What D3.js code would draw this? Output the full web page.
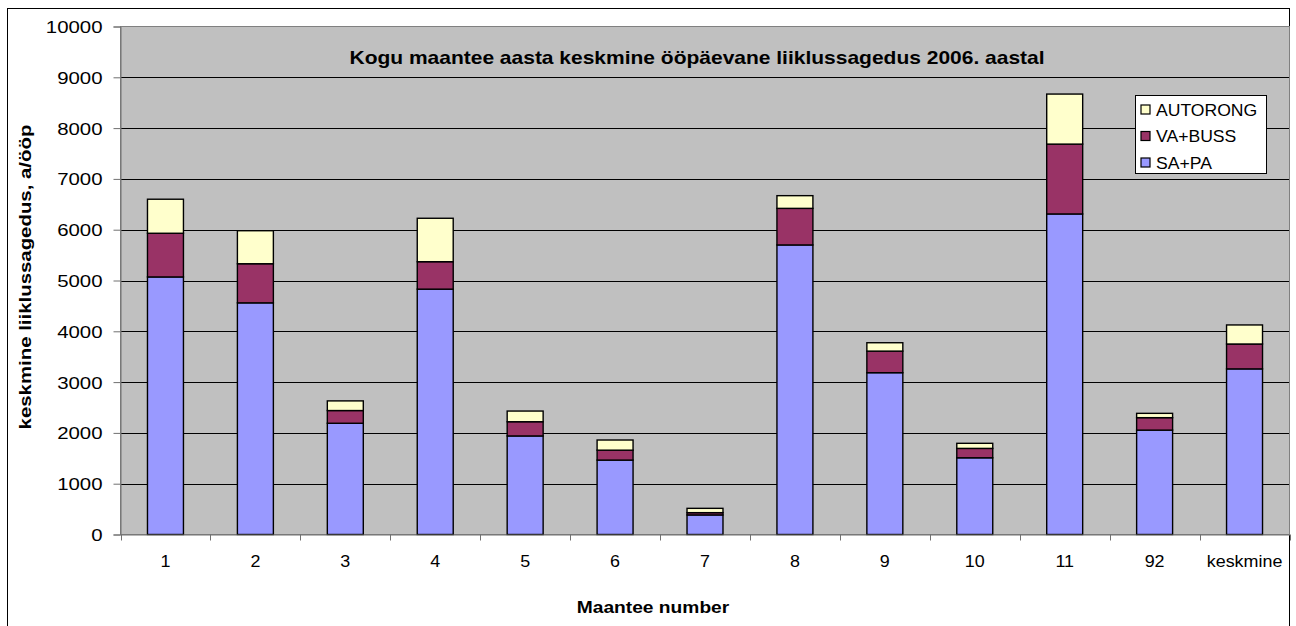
<!DOCTYPE html>
<html>
<head>
<meta charset="utf-8">
<script src="https://cdn.jsdelivr.net/npm/d3@7"></script>
<style>
  html, body { margin: 0; padding: 0; background: #fff; }
  svg { display: block; font-family: "Liberation Sans", Arial, sans-serif; }
</style>
</head>
<body>
<svg id="chart" width="1296" height="626"></svg>
<script>
// ---- data ----
const categories = ["1", "2", "3", "4", "5", "6", "7", "8", "9", "10", "11", "92", "keskmine"];
const saPa     = [5070, 4560, 2190, 4830, 1940, 1465, 385, 5700, 3185, 1510, 6310, 2055, 3260];
const vaBuss   = [ 860,  770,  250,  540,  280,  195,  45,  720,  425,  185, 1375,  245,  490];
const autorong = [ 670,  650,  190,  855,  210,  200,  85,  250,  165,  100,  985,   85,  375];
const seriesNames = ["SA+PA", "VA+BUSS", "AUTORONG"];
const seriesColors = ["#9999FF", "#993366", "#FFFFCC"];
const yTicks = [0, 1000, 2000, 3000, 4000, 5000, 6000, 7000, 8000, 9000, 10000];
const title = "Kogu maantee aasta keskmine ööpäevane liiklussagedus 2006. aastal";
const xTitle = "Maantee number";
const yTitle = "keskmine liiklussagedus, a/ööp";

// ---- layout ----
const svg = d3.select("#chart");
const plot = { left: 120.5, right: 1289.5, top: 26.5, bottom: 534.5 };

const x = d3.scaleBand().domain(categories).range([plot.left, plot.right])
  .paddingInner(0.6).paddingOuter(0.3);
const xStep = d3.scaleBand().domain(categories).range([plot.left, plot.right]);
const y = d3.scaleLinear().domain([0, 10000]).range([plot.bottom, plot.top]);

// outer chart border
svg.append("rect").attr("x", 7.5).attr("y", 8.5).attr("width", 1282).attr("height", 640)
  .attr("fill", "#fff").attr("stroke", "#000").attr("stroke-width", 1);

// plot background
svg.append("rect").attr("x", plot.left).attr("y", plot.top)
  .attr("width", plot.right - plot.left).attr("height", plot.bottom - plot.top)
  .attr("fill", "#C0C0C0");

// gridlines
svg.append("g").selectAll("line").data(yTicks.filter(v => v > 0 && v < 10000)).join("line")
  .attr("x1", plot.left).attr("x2", plot.right)
  .attr("y1", d => Math.round(y(d)) + 0.5).attr("y2", d => Math.round(y(d)) + 0.5)
  .attr("stroke", "#000").attr("stroke-width", 1);

// plot border
svg.append("rect").attr("x", plot.left).attr("y", plot.top)
  .attr("width", plot.right - plot.left).attr("height", plot.bottom - plot.top)
  .attr("fill", "none").attr("stroke", "#808080").attr("stroke-width", 1);

// title (inside plot)
function scaledText(g, txt, tx, ty, sx, opts) {
  const t = g.append("text")
    .attr("transform", `translate(${tx},${ty}) scale(${sx},1)`)
    .attr("font-size", opts.size).attr("font-weight", opts.weight || "normal")
    .attr("text-anchor", opts.anchor || "middle").attr("fill", "#000")
    .text(txt);
  return t;
}
scaledText(svg, title, 697, 64, 1.2, { size: 17.5, weight: "bold" });

// stacked bars
const stackData = categories.map((c, i) => ({ cat: c, "SA+PA": saPa[i], "VA+BUSS": vaBuss[i], "AUTORONG": autorong[i] }));
const stacked = d3.stack().keys(seriesNames)(stackData);
svg.append("g").selectAll("g").data(stacked).join("g")
  .attr("fill", (d, i) => seriesColors[i])
  .selectAll("rect").data(d => d).join("rect")
  .attr("x", d => x(d.data.cat))
  .attr("width", x.bandwidth())
  .attr("y", d => y(d[1]))
  .attr("height", d => y(d[0]) - y(d[1]))
  .attr("stroke", "#000").attr("stroke-width", 1.4);

// y axis
const yAxis = d3.axisLeft(y).tickValues(yTicks).tickSize(7).tickPadding(10).tickFormat(d3.format("d"));
const yg = svg.append("g").attr("transform", `translate(${plot.left},0)`).call(yAxis);
yg.select(".domain").attr("stroke", "#707070");
yg.selectAll(".tick line").attr("stroke", "#707070");
yg.selectAll(".tick text").remove();
yg.selectAll(".tick").each(function (d) {
  scaledText(d3.select(this), String(d), -18, 6, 1.2, { size: 17, anchor: "end" });
});

// x axis
const xAxis = d3.axisBottom(xStep).tickSize(0);
const xg = svg.append("g").attr("transform", `translate(0,${plot.bottom})`).call(xAxis);
xg.select(".domain").attr("stroke", "#707070");
xg.selectAll(".tick text").remove();
xg.selectAll(".tick").each(function (d) {
  scaledText(d3.select(this), d, 0, 32, 1.12, { size: 16 });
});
// tick marks at category boundaries
const bounds = categories.map(c => xStep(c)).concat([plot.right]);
xg.append("g").selectAll("line").data(bounds).join("line")
  .attr("x1", d => Math.round(d) + 0.5).attr("x2", d => Math.round(d) + 0.5)
  .attr("y1", 0).attr("y2", 6).attr("stroke", "#707070");

// axis titles
scaledText(svg, xTitle, 653, 613, 1.13, { size: 17, weight: "bold" });
svg.append("text")
  .attr("transform", `translate(31,277) rotate(-90) scale(1.2,1)`)
  .attr("font-size", 17).attr("font-weight", "bold").attr("text-anchor", "middle")
  .text(yTitle);

// legend
const lg = svg.append("g").attr("transform", "translate(1135.5,95.5)");
lg.append("rect").attr("width", 131).attr("height", 78).attr("fill", "#fff")
  .attr("stroke", "#000").attr("stroke-width", 1);
const legendOrder = [2, 1, 0];
legendOrder.forEach((si, k) => {
  const cy = 14 + k * 26.5;
  lg.append("rect").attr("x", 5.5).attr("y", cy - 4.5).attr("width", 9).attr("height", 9)
    .attr("fill", seriesColors[si]).attr("stroke", "#000").attr("stroke-width", 1.2);
  scaledText(lg, seriesNames[si], 20.5, cy + 6, 1.1, { size: 16, anchor: "start" });
});
</script>
</body>
</html>
